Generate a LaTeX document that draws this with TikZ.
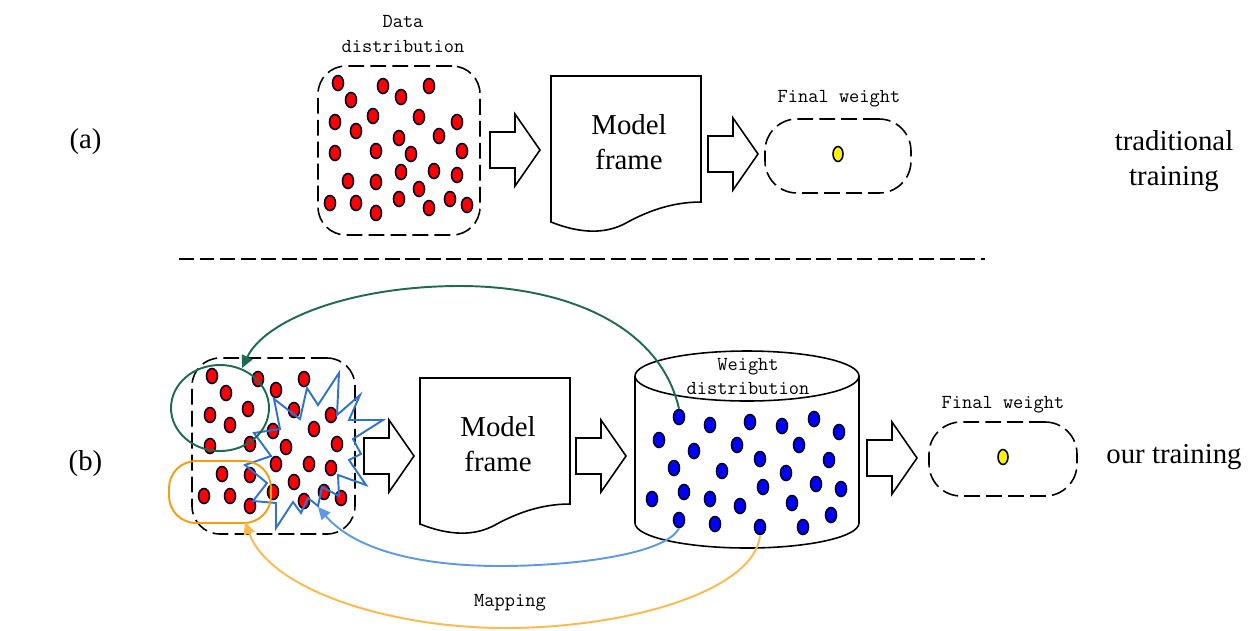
\documentclass[tikz,border=0pt]{standalone}
\usepackage{fontspec}
\setmainfont{Liberation Serif}
\usetikzlibrary{arrows.meta,shapes.geometric}
\def\px{0.02cm}
\definecolor{burstblue}{HTML}{2F72D0}
\definecolor{setgreen}{HTML}{1F6B4F}
\definecolor{setorange}{HTML}{F59E12}
\definecolor{mapblue}{HTML}{5F98E6}
\definecolor{maporange}{HTML}{FDB950}
\tikzset{
  dot/.style={ellipse,draw=black!85!blue,line width=0.9pt,inner sep=0pt,minimum width=11*\px,minimum height=15*\px},
  reddot/.style={dot,fill=red},
  bluedot/.style={dot,fill=blue},
  yellowdot/.style={dot,fill=yellow,minimum width=10*\px},
  dashbox/.style={draw,dashed,dash pattern=on 9pt off 3.5pt,line width=0.9pt,inner sep=0pt},
  blockline/.style={draw,line width=0.9pt,line join=miter},
  bigtext/.style={inner sep=0pt,font=\fontsize{16.4pt}{20pt}\selectfont,align=center},
  monotext/.style={inner sep=0pt,font=\fontsize{11.3pt}{14.2pt}\selectfont\ttfamily,align=center},
  maparrow/.style={line width=1.1pt,-{Triangle[length=7pt,width=6.5pt]}}
}
\begin{document}
\begin{tikzpicture}[x=\px,y=-\px]
\useasboundingbox (0,0) rectangle (1260,630);
% row (a)
\node[bigtext] (labela) at (85.5,142) {(a)};
\node[monotext] (datatitle) at (403,34) {Data\\distribution};
\node[dashbox,rounded corners=28*\px,minimum width=162*\px,minimum height=169*\px] (dataa) at (399,150.5) {};
\foreach \Point [count=\i] in {(338,83), (351,100), (383,86), (401,97), (429,86), (335,122), (356,131), (373,116), (419,117), (457,122), (399,138), (439,136), (335,153), (376,151), (411,154), (462,151), (348,181), (376,182), (401,172), (434,171), (457,175), (419,189), (330,203), (356,203), (376,213), (399,199), (429,208), (450,199), (467,205)}{
    \node[reddot] (a\i) at \Point {};
}
\node[bigtext] (framea) at (629,142.5) {Model\\frame};
\node[monotext] (finaltitlea) at (839,99) {Final weight};
\node[dashbox,rounded corners=32*\px,minimum width=146*\px,minimum height=74*\px] (finala) at (838,156) {};
\node[yellowdot] (finaldota) at (838,154) {};
\node[bigtext] (typea) at (1174,161.5) {traditional\\training};
% separator
\coordinate (sepleft) at (179,259);
\coordinate (sepright) at (985,259);
\draw[dashed,dash pattern=on 8.5pt off 3.2pt,line width=0.9pt] (sepleft)--(sepright);
% row (b)
\node[bigtext] (labelb) at (85.5,464) {(b)};
\node[dashbox,rounded corners=28*\px,minimum width=163*\px,minimum height=176*\px] (datab) at (273.5,446) {};
\foreach \Point [count=\i] in {(212,376), (226,393), (210,415), (230,425), (248,409), (210,446), (250,444), (258,379), (276,390), (304,379), (294,410), (331,415), (273,431), (314,429), (337,444), (286,447), (276,464), (309,464), (331,468), (222,474), (250,475), (294,482), (204,496), (230,496), (250,506), (273,492), (304,501), (324,492), (341,498)}{
    \node[reddot] (b\i) at \Point {};
}
\draw[burstblue,line width=1.1pt,line join=miter] (274,399)--(300,419)--(307,388)--(318,405)--(339,373)--(337,415)--(360,395)--(349,420)--(383,420)--(353,439)--(361,454)--(349,460)--(366,485)--(338,475)--(339,496)--(322,487)--(318,506)--(308,498)--(301,513)--(293,502)--(276,528)--(276,503)--(253,501)--(267,483)--(245,465)--(271,456)--(254,433)--(280,429)--cycle;
\node[ellipse,draw=setgreen,line width=1.1pt,inner sep=0pt,minimum width=98*\px,minimum height=86*\px] (greenset) at (220,408) {};
\node[draw=setorange,line width=1.1pt,rounded corners=27*\px,inner sep=0pt,minimum width=102*\px,minimum height=62*\px] (orangeset) at (220,492) {};
\node[bigtext] (frameb) at (498,444.5) {Model\\frame};
% weight store
\draw[line width=0.9pt] (635,376) arc[start angle=180,end angle=540,x radius=112,y radius=-25];
\draw[line width=0.9pt] (635,376)--(635,523) arc[start angle=180,end angle=360,x radius=112,y radius=-25]--(859,376);
\node[monotext] (storetitle) at (748,376.5) {Weight\\distribution};
\foreach \Point [count=\i] in {(679,417), (710,425), (750,422), (782,426), (814,419), (839,432), (659,440), (694,451), (737,445), (760,459), (799,445), (829,460), (674,468), (722,471), (786,473), (763,487), (816,484), (841,489), (652,499), (684,492), (710,499), (740,506), (792,503), (831,515), (679,520), (715,524), (760,527), (803,527)}{
    \node[bluedot] (w\i) at \Point {};
}
\node[monotext] (finaltitleb) at (1003,405) {Final weight};
\node[dashbox,rounded corners=32*\px,minimum width=148*\px,minimum height=74*\px] (finalb) at (1003,459) {};
\node[yellowdot] (finaldotb) at (1003,457) {};
\node[bigtext] (typeb) at (1174,457) {our training};
\node[monotext] (maplabel) at (510,603) {Mapping};
% block arrows
\foreach \Point in {(490,150), (708,154), (364,456), (576,456), (867,458)}{
    \draw[blockline,shift={\Point}] (0,-18)--(25,-18)--(25,-36)--(50,0)--(25,36)--(25,18)--(0,18)--cycle;
}
% document outlines
\foreach \Point in {(551,76), (420,378)}{
    \draw[blockline,shift={\Point}] (0,0)--(150,0)--(150,126) .. controls (120,126) and (95,136) .. (75,147) .. controls (55,158) and (30,158) .. (0,146)--cycle;
}
% mapping curves
\coordinate (greenend) at (242,368);
\coordinate (blueend) at (318,507);
\coordinate (orangeend) at (245,522);
\coordinate (greentop) at (460,286);
\coordinate (bluelow) at (500,566);
\coordinate (orangelow) at (505,628);
\draw[maparrow,setgreen] (w1.north) .. controls (660,325) and (565,286) .. (greentop) .. controls (350,286) and (265,320) .. (greenend);
\draw[maparrow,mapblue] (w25.south) .. controls (665,555) and (570,566) .. (bluelow) .. controls (420,566) and (355,550) .. (blueend);
\draw[maparrow,maporange] (w27.south) .. controls (755,590) and (630,628) .. (orangelow) .. controls (390,628) and (270,590) .. (orangeend);
\end{tikzpicture}
\end{document}
